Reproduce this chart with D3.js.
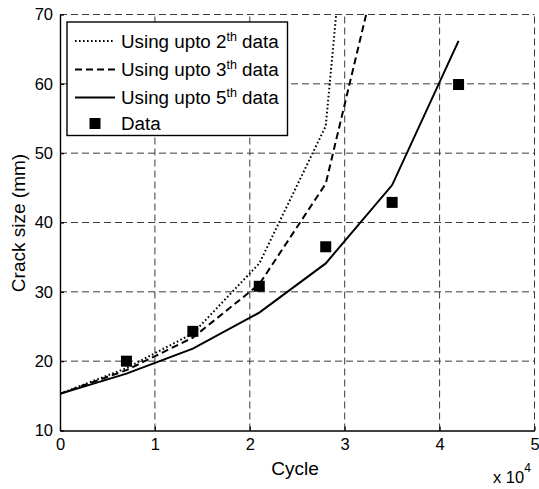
<!DOCTYPE html>
<html>
<head>
<meta charset="utf-8">
<script src="https://cdn.jsdelivr.net/npm/d3@7"></script>
<style>
  body { margin: 0; background: #fff; }
  svg { display: block; font-family: "Liberation Sans", Arial, Helvetica, sans-serif; }
</style>
</head>
<body>
<svg id="chart" width="539" height="489"></svg>
<script>
// data
const cycles = [0, 7000, 14000, 21000, 28000, 35000, 42000];
const upto2 = [15.3, 19.0, 24.0, 34.1, 53.9, 156];
const upto3 = [15.3, 18.7, 23.4, 31.1, 45.6, 85.7];
const upto5 = [15.3, 18.2, 21.8, 27.0, 34.1, 45.4, 66.2];
const dataCycles = [7000, 14000, 21000, 28000, 35000, 42000];
const dataSize = [20, 24.3, 30.8, 36.5, 42.9, 59.9];
const xTicks = [0, 1, 2, 3, 4, 5];
const yTicks = [10, 20, 30, 40, 50, 60, 70];

const series = [
  { label: "2", values: upto2, dash: "1.6,2.4" },
  { label: "3", values: upto3, dash: "7,4" },
  { label: "5", values: upto5, dash: null },
];

const svg = d3.select("#chart");
const plotLeft = 60, plotRight = 534.5, plotTop = 14.5, plotBottom = 430.5;

const x = d3.scaleLinear().domain([0, 50000]).range([plotLeft, plotRight]);
const y = d3.scaleLinear().domain([10, 70]).range([plotBottom, plotTop]);

svg.append("defs").append("clipPath").attr("id", "plot")
  .append("rect")
  .attr("x", plotLeft).attr("y", plotTop)
  .attr("width", plotRight - plotLeft).attr("height", plotBottom - plotTop);

// grid
const grid = svg.append("g").attr("stroke", "#3a3a3a").attr("stroke-width", 1)
  .attr("stroke-dasharray", "7,4");
grid.selectAll("line.v").data(xTicks.slice(1)).join("line")
  .attr("class", "v")
  .attr("x1", (d) => x(d * 1e4)).attr("x2", (d) => x(d * 1e4))
  .attr("y1", plotBottom).attr("y2", plotTop);
grid.selectAll("line.h").data(yTicks.slice(1)).join("line")
  .attr("class", "h")
  .attr("x1", plotLeft).attr("x2", plotRight)
  .attr("y1", (d) => y(d)).attr("y2", (d) => y(d));

// axes (ticks point inward)
const xAxis = svg.append("g")
  .attr("transform", `translate(0,${plotBottom})`)
  .call(d3.axisBottom(x).tickValues(xTicks.map((d) => d * 1e4))
    .tickFormat((d) => d / 1e4).tickSizeInner(-4).tickSizeOuter(0).tickPadding(8));
const yAxis = svg.append("g")
  .attr("transform", `translate(${plotLeft},0)`)
  .call(d3.axisLeft(y).tickValues(yTicks).tickSizeInner(-4).tickSizeOuter(0).tickPadding(7));

[xAxis, yAxis].forEach((g) => {
  g.select(".domain").attr("stroke", "#000").attr("stroke-width", 1.4);
  g.selectAll(".tick line").attr("stroke", "#000").attr("stroke-width", 1.2);
  g.selectAll(".tick text").attr("fill", "#000").style("font-size", "16.5px");
});
xAxis.selectAll(".tick text").attr("dy", "0.72em");

// curves
const line = d3.line()
  .x((d, i) => x(cycles[i]))
  .y((d) => y(d));

const curves = svg.append("g").attr("clip-path", "url(#plot)");
curves.selectAll("path").data(series).join("path")
  .attr("d", (d) => line(d.values))
  .attr("fill", "none")
  .attr("stroke", "#000")
  .attr("stroke-width", 2)
  .attr("stroke-dasharray", (d) => d.dash);

// data markers
svg.append("g").selectAll("rect").data(dataCycles).join("rect")
  .attr("x", (d) => x(d) - 5.5)
  .attr("y", (d, i) => y(dataSize[i]) - 5.5)
  .attr("width", 11).attr("height", 11)
  .attr("fill", "#000");

// axis labels
svg.append("text")
  .attr("x", 295).attr("y", 475)
  .attr("text-anchor", "middle")
  .style("font-size", "19px")
  .text("Cycle");

svg.append("text")
  .attr("transform", "translate(25,223) rotate(-90)")
  .attr("text-anchor", "middle")
  .style("font-size", "19px")
  .text("Crack size (mm)");

const mult = svg.append("text").attr("x", 493).attr("y", 483).style("font-size", "16.5px");
mult.append("tspan").text("x 10");
mult.append("tspan").attr("dy", -11).style("font-size", "12px").text("4");

// legend
const legend = svg.append("g");
legend.append("rect")
  .attr("x", 67).attr("y", 22).attr("width", 220.5).attr("height", 113.5)
  .attr("fill", "#fff").attr("stroke", "#000").attr("stroke-width", 1.4);

const rowY = [41, 69.5, 97.5, 123.5];
series.forEach((s, i) => {
  legend.append("line")
    .attr("x1", 75).attr("x2", 115)
    .attr("y1", rowY[i]).attr("y2", rowY[i])
    .attr("stroke", "#000").attr("stroke-width", 2)
    .attr("stroke-dasharray", s.dash);
  const t = legend.append("text")
    .attr("x", 121).attr("y", rowY[i] + 6.5)
    .style("font-size", "18.8px");
  t.append("tspan").text(`Using upto ${s.label}`);
  t.append("tspan").attr("dy", -7).style("font-size", "12.5px").text("th");
  t.append("tspan").attr("dy", 7).text(" data");
});
legend.append("rect")
  .attr("x", 89.5).attr("y", rowY[3] - 5.5)
  .attr("width", 11).attr("height", 11).attr("fill", "#000");
legend.append("text")
  .attr("x", 121).attr("y", rowY[3] + 6.5)
  .style("font-size", "18.8px")
  .text("Data");
</script>
</body>
</html>
